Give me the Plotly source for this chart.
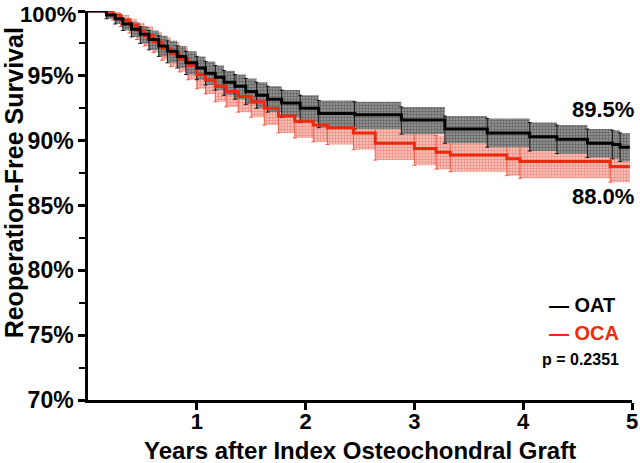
import plotly.graph_objects as go

# ---- data ----
oat_t = [0, 0.17, 0.25, 0.32, 0.40, 0.48, 0.56, 0.65, 0.73, 0.82, 0.90, 1.00, 1.08, 1.17, 1.25, 1.35,
         1.45, 1.55, 1.65, 1.78, 1.95, 2.12, 2.45, 2.88, 3.28, 3.67, 4.06, 4.31, 4.59, 4.82, 4.89, 4.98]
oat_s = [100, 99.7, 99.4, 99.0, 98.6, 98.2, 97.8, 97.3, 96.9, 96.5, 96.0, 95.6, 95.2, 94.9, 94.5, 94.2,
         93.8, 93.5, 93.2, 92.9, 92.5, 92.1, 92.0, 91.6, 90.9, 90.6, 90.3, 90.1, 89.8, 89.7, 89.5, 89.5]
oat_lo = [100, 99.4, 99.0, 98.5, 98.0, 97.5, 97.0, 96.5, 96.0, 95.6, 95.1, 94.7, 94.3, 93.9, 93.5, 93.2,
          92.8, 92.5, 92.2, 91.8, 91.4, 91.0, 90.9, 90.5, 89.8, 89.5, 89.2, 89.0, 88.7, 88.6, 88.4, 88.4]
oat_hi = [100, 99.9, 99.7, 99.4, 99.1, 98.8, 98.5, 98.1, 97.7, 97.3, 96.9, 96.5, 96.1, 95.8, 95.4, 95.1,
          94.8, 94.5, 94.2, 93.9, 93.5, 93.1, 93.0, 92.6, 91.9, 91.7, 91.4, 91.2, 90.9, 90.8, 90.6, 90.6]

oca_t = [0, 0.23, 0.30, 0.38, 0.45, 0.52, 0.60, 0.68, 0.76, 0.84, 0.92, 1.00, 1.08, 1.17, 1.27, 1.38,
         1.50, 1.62, 1.75, 1.90, 2.07, 2.20, 2.44, 2.64, 3.00, 3.20, 3.33, 3.85, 3.97, 4.80, 4.98]
oca_s = [100, 99.7, 99.3, 98.9, 98.5, 98.1, 97.6, 97.1, 96.7, 96.3, 95.8, 95.1, 94.7, 94.2, 93.8, 93.4,
         93.0, 92.5, 91.9, 91.5, 91.2, 91.0, 90.6, 89.8, 89.4, 89.1, 88.9, 88.6, 88.4, 88.0, 88.0]
oca_lo = [100, 99.3, 98.8, 98.3, 97.8, 97.3, 96.8, 96.2, 95.7, 95.3, 94.7, 94.0, 93.6, 93.0, 92.6, 92.2,
          91.8, 91.2, 90.6, 90.2, 89.9, 89.7, 89.3, 88.5, 88.1, 87.8, 87.6, 87.3, 87.1, 86.8, 86.8]
oca_hi = [100, 99.9, 99.7, 99.4, 99.1, 98.8, 98.4, 98.0, 97.6, 97.3, 96.8, 96.2, 95.8, 95.4, 95.0, 94.7,
          94.3, 93.8, 93.2, 92.8, 92.5, 92.3, 91.9, 91.1, 90.7, 90.4, 90.2, 89.9, 89.7, 89.3, 89.3]

y_ticks = [70, 75, 80, 85, 90, 95, 100]
y_tick_labels = ["70%", "75%", "80%", "85%", "90%", "95%", "100%"]
x_ticks = [1, 2, 3, 4, 5]
x_tick_labels = ["1", "2", "3", "4", "5"]

FONT = "Liberation Sans, Arial, sans-serif"
BLACK = "#000000"
RED = "#ee2a0e"

fig = go.Figure()


def add_band(t, lo, hi, s, fg, bg, line_col):
    fig.add_trace(go.Scatter(x=t, y=lo, mode="lines", line=dict(width=0, shape="hv"),
                             hoverinfo="skip", showlegend=False))
    fig.add_trace(go.Scatter(x=t, y=hi, mode="lines", line=dict(width=0, shape="hv"),
                             fill="tonexty", fillcolor=bg,
                             fillpattern=dict(shape="+", fgcolor=fg, bgcolor=bg, size=3, solidity=0.35),
                             hoverinfo="skip", showlegend=False))
    # vertical CI marks at each step
    fig.add_trace(go.Scatter(x=t[1:-1], y=s[1:-1], mode="markers",
                             marker=dict(size=1, opacity=0),
                             error_y=dict(type="data", symmetric=False,
                                          array=[h - v for h, v in zip(hi[1:-1], s[1:-1])],
                                          arrayminus=[v - l for l, v in zip(lo[1:-1], s[1:-1])],
                                          color=line_col, thickness=1, width=2),
                             hoverinfo="skip", showlegend=False))


add_band(oca_t, oca_lo, oca_hi, oca_s, "rgba(225,50,35,0.8)", "#f4bdb5", "rgba(238,60,30,0.75)")
add_band(oat_t, oat_lo, oat_hi, oat_s, "rgba(30,30,30,0.85)", "#8e8e8e", "rgba(0,0,0,0.85)")

fig.add_trace(go.Scatter(x=oca_t, y=oca_s, mode="lines", name="OCA",
                         line=dict(color=RED, width=3, shape="hv"), showlegend=False))
fig.add_trace(go.Scatter(x=oat_t, y=oat_s, mode="lines", name="OAT",
                         line=dict(color=BLACK, width=3, shape="hv"), showlegend=False))

# the top label ("100%") is drawn as an annotation since an axis label at the very top edge gets dropped
axis_tick_text = y_tick_labels[:-1] + [""]

fig.update_layout(
    width=640, height=463,
    margin=dict(l=88, r=8, t=11, b=63),
    paper_bgcolor="white", plot_bgcolor="white",
    font=dict(family=FONT, color="black"),
    xaxis=dict(range=[0, 5], tickvals=x_ticks, ticktext=x_tick_labels, automargin=False,
               showgrid=False, zeroline=False, showline=True, linecolor="black", linewidth=2.5,
               ticks="outside", ticklen=7, tickwidth=2.5, tickcolor="black", ticklabelstandoff=-7,
               tickfont=dict(family=FONT, size=22, color="black", weight="bold")),
    yaxis=dict(range=[70, 100], tickvals=y_ticks, ticktext=axis_tick_text, automargin=False,
               showgrid=False, zeroline=False, showline=True, linecolor="black", linewidth=2.5,
               ticks="outside", ticklen=7, tickwidth=2.5, tickcolor="black",
               minor=dict(dtick=2.5, tick0=70, ticks="outside", ticklen=6, tickwidth=2, tickcolor="black"),
               tickfont=dict(family=FONT, size=23, color="black", weight="bold")),
)

fig.add_annotation(xref="paper", x=-0.0175, y=y_ticks[-1], yshift=-3, text="<b>" + y_tick_labels[-1] + "</b>",
                   showarrow=False, xanchor="right", yanchor="middle",
                   font=dict(size=22, color="black"))

# axis titles
fig.add_annotation(xref="paper", yref="paper", x=0.5, y=-0.13, yanchor="middle",
                   text="<b>Years after Index Osteochondral Graft</b>", showarrow=False,
                   font=dict(size=24, color="black"))
fig.add_annotation(xref="paper", yref="paper", x=-0.136, y=0.557, xanchor="center", yanchor="middle",
                   text="<b>Reoperation-Free Survival</b>", showarrow=False, textangle=-90,
                   font=dict(size=25, color="black"))

# end-point labels
fig.add_annotation(xref="paper", x=1.007, y=oat_s[-1] + 2.87, text="<b>89.5%</b>", showarrow=False,
                   font=dict(size=22, color="black"), xanchor="right", yanchor="middle")
fig.add_annotation(xref="paper", x=1.007, y=oca_s[-1] - 2.34, text="<b>88.0%</b>", showarrow=False,
                   font=dict(size=22, color="black"), xanchor="right", yanchor="middle")

# legend and p value
fig.add_annotation(x=4.22, y=77.33, text="<b>\u2014 OAT</b>", showarrow=False,
                   font=dict(size=20, color="black"), xanchor="left", yanchor="middle")
fig.add_annotation(x=4.22, y=75.2, text="<b>\u2014 OCA</b>", showarrow=False,
                   font=dict(size=20, color=RED), xanchor="left", yanchor="middle")
fig.add_annotation(x=4.15, y=73.1, text="<b>p = 0.2351</b>", showarrow=False,
                   font=dict(size=16, color="black"), xanchor="left", yanchor="middle")

fig.write_html("out.html", config={"displayModeBar": False},
               post_script="document.body.style.margin='0';document.body.style.overflow='hidden';")
